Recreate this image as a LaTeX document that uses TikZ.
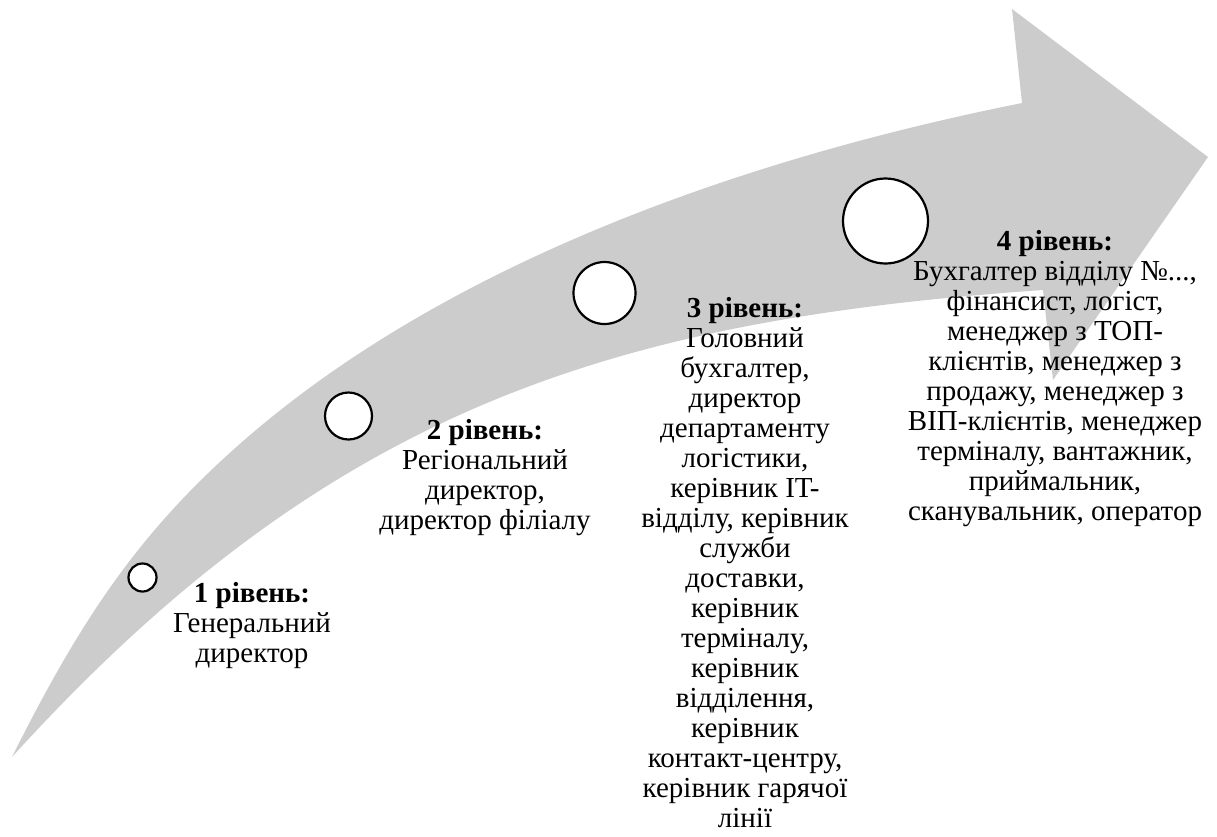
\documentclass[tikz,border=0pt]{standalone}
\usepackage{fontspec}
\setmainfont{Liberation Serif}
\newfontfamily\lvlfont{Liberation Serif}
\usepackage{tikz}
\usetikzlibrary{positioning}

\begin{document}
\begin{tikzpicture}[
    x=1pt, y=-1pt,
    band/.style={fill=black!20},
    dot/.style={circle, draw=black, line width=2.2pt, fill=white, inner sep=0pt},
    lvl/.style={align=center, inner sep=0pt, anchor=north, font=\lvlfont\fontsize{29}{30}\selectfont}
]
\useasboundingbox (0,0) rectangle (1217,836);
% curved arrow
\fill[band] (12,757) .. controls (79,623) and (136,537) .. (233,450)
    .. controls (441,263) and (747,158) .. (1022,103)
    -- (1012,9) -- (1208,157) -- (1053,380) -- (1043,290)
    .. controls (611,320) and (328,409) .. (12,757) -- cycle;
% level marks
\node[dot, minimum size=28pt] (c1) at (142.5,577.5) {};
\node[dot, minimum size=47pt] (c2) at (348.5,416) {};
\node[dot, minimum size=62pt] (c3) at (604.5,293) {};
\node[dot, minimum size=85pt] (c4) at (885.5,221) {};
% level texts
\node[lvl] (t1) at (252,582) {\textbf{1 рівень:}\\Генеральний\\директор};
\node[lvl] (t2) at (485,419) {\textbf{2 рівень:}\\Регіональний\\директор,\\директор філіалу};
\node[lvl] (t3) at (745,297) {\textbf{3 рівень:}\\Головний\\бухгалтер,\\директор\\департаменту\\логістики,\\керівник IT-\\відділу, керівник\\служби\\доставки,\\керівник\\терміналу,\\керівник\\відділення,\\керівник\\контакт-центру,\\керівник гарячої\\лінії};
\node[lvl] (t4) at (1055,230) {\textbf{4 рівень:}\\Бухгалтер відділу №...,\\фінансист, логіст,\\менеджер з ТОП-\\клієнтів, менеджер з\\продажу, менеджер з\\ВІП-клієнтів, менеджер\\терміналу, вантажник,\\приймальник,\\сканувальник, оператор};
\end{tikzpicture}
\end{document}
